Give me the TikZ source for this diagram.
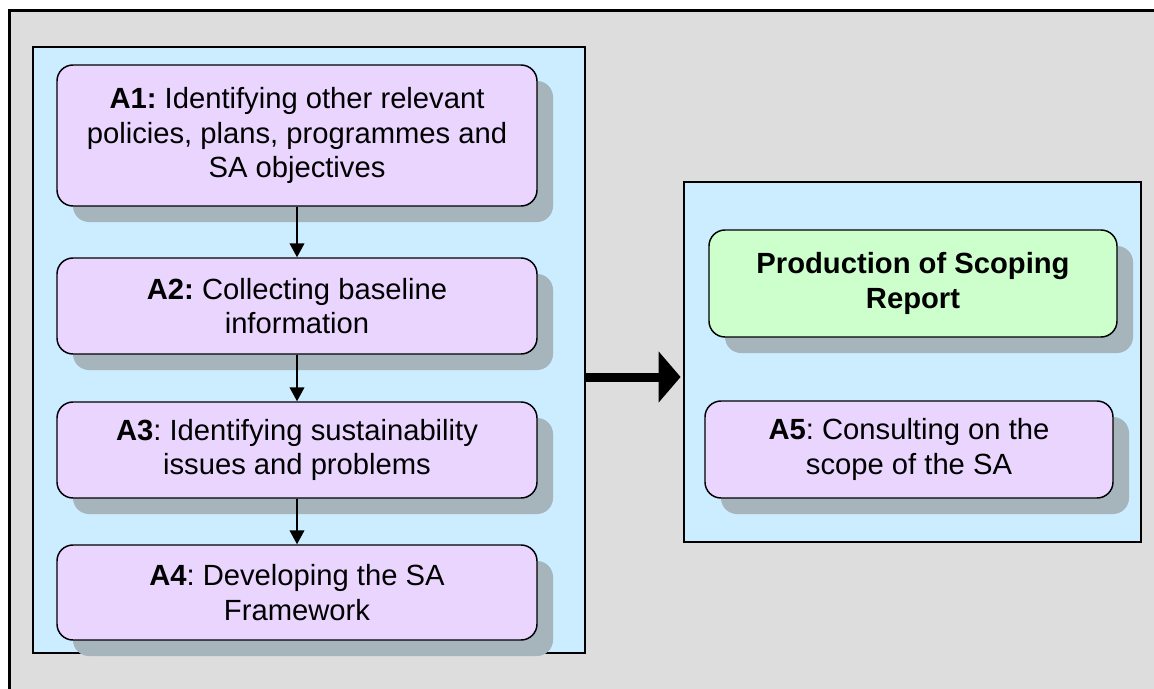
\documentclass[tikz,border=0pt]{standalone}
\usepackage{fontspec}
\setmainfont{Liberation Sans}
\usetikzlibrary{shadows,arrows.meta}
\definecolor{bgc}{HTML}{DDDDDD}
\definecolor{panelc}{HTML}{CCECFF}
\definecolor{purp}{HTML}{E9D5FE}
\definecolor{grn}{HTML}{CCFFCC}
\definecolor{shad}{HTML}{A6B4BC}
\frenchspacing
\begin{document}
\begin{tikzpicture}[x=0.75pt,y=-0.75pt,
  panel/.style={draw=black, line width=1.1pt, fill=panelc, inner sep=0pt},
  stepbox/.style={draw=black, line width=1.1pt, fill=purp, rounded corners=12pt,
    align=center, inner sep=0pt, minimum width=360pt,
    font=\fontsize{21.9pt}{25.9pt}\selectfont\frenchspacing,
    drop shadow={shadow xshift=12pt, shadow yshift=-12pt, fill=shad, opacity=1}},
  greenbox/.style={stepbox, fill=grn},
  flow/.style={line width=1.5pt, -{Triangle[length=10.5pt,width=11pt]}},
  bigflow/.style={line width=6.75pt, -{Triangle[length=16.5pt,width=37.5pt]}}
]
\clip (0,0) rectangle (1154,689);
\fill[white] (0,0) rectangle (1154,689);
\draw[line width=2.25pt, fill=bgc] (9.5,10.5) rectangle (1180,710);

% panels
\node[panel, minimum width=414pt, minimum height=454.5pt] (lp) at (309,350) {};
\node[panel, minimum width=342.75pt, minimum height=270pt] (rp) at (912.5,362) {};

% left column steps
\node[stepbox, minimum height=105.75pt] (a1) at (297,135.5)
  {\textbf{A1:} Identifying other relevant\\policies, plans, programmes and\\SA objectives};
\node[stepbox, minimum height=72pt] (a2) at (297,306)
  {\textbf{A2:} Collecting baseline\\information};
\node[stepbox, minimum height=72pt] (a3) at (297,450)
  {\textbf{A3}: Identifying sustainability\\issues and problems};
\node[stepbox, minimum height=71.25pt] (a4) at (297,592.5)
  {\textbf{A4}: Developing the SA\\Framework};

% right column
\node[greenbox, minimum width=306pt, minimum height=80.25pt] (scr) at (913,283.5)
  {\textbf{Production of Scoping}\\\textbf{Report}};
\node[stepbox, minimum width=306pt, minimum height=72.75pt] (a5) at (909,449.5)
  {\textbf{A5}: Consulting on the\\scope of the SA};

% connectors
\draw[flow] (a1.south) -- (a2.north);
\draw[flow] (a2.south) -- (a3.north);
\draw[flow] (a3.south) -- (a4.north);
\coordinate (ay) at (0,377);
\draw[bigflow] (lp.east |- ay) -- ([xshift=-2pt]rp.west |- ay);
\end{tikzpicture}
\end{document}
